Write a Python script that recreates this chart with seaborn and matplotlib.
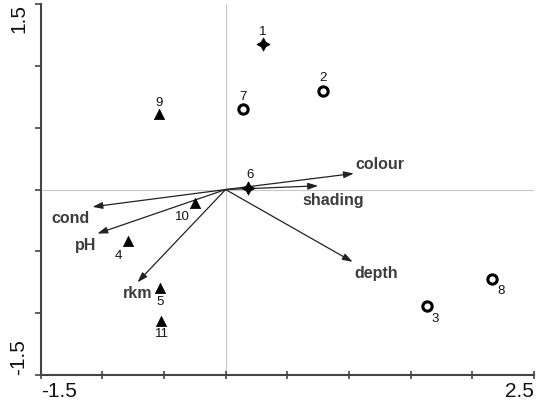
import numpy as np
import pandas as pd
import seaborn as sns
import matplotlib.pyplot as plt

# Site scores (axis 1, axis 2) and group
site_ids = ['1', '2', '3', '4', '5', '6', '7', '8', '9', '10', '11']
site_x = [0.30, 0.79, 1.63, -0.79, -0.53, 0.18, 0.14, 2.16, -0.54, -0.25, -0.52]
site_y = [1.18, 0.80, -0.94, -0.42, -0.80, 0.01, 0.65, -0.72, 0.61, -0.11, -1.065]
site_group = ['star', 'circle', 'circle', 'triangle', 'triangle', 'star',
              'circle', 'circle', 'triangle', 'triangle', 'triangle']

# Environmental vectors
env_names = ['colour', 'shading', 'depth', 'cond', 'pH', 'rkm']
env_x = [1.04, 0.75, 1.03, -1.08, -1.04, -0.715]
env_y = [0.13, 0.03, -0.585, -0.14, -0.356, -0.75]

df = pd.DataFrame({'site': site_ids, 'x': site_x, 'y': site_y, 'group': site_group})

sns.set_style("white")
plt.rcParams['font.family'] = ['Liberation Sans', 'DejaVu Sans']

fig = plt.figure(figsize=(5.42, 4.05), dpi=100)
ax = fig.add_axes([0.075, 0.074, 0.91, 0.916])

ax.axhline(0, color='#c8c8c8', lw=0.8, zorder=0)
ax.axvline(0, color='#c8c8c8', lw=0.8, zorder=0)

# Arrows
for name, ex, ey in zip(env_names, env_x, env_y):
    ax.annotate('', xy=(ex, ey), xytext=(0, 0),
                arrowprops=dict(arrowstyle='-|>,head_length=0.6,head_width=0.2',
                                color='#222222', lw=0.9, shrinkA=0, shrinkB=0))

# label offsets from arrow tip (layout)
env_off = {'colour': (0.015, 0.07, 'left'), 'shading': (-0.13, -0.115, 'left'),
           'depth': (0.015, -0.095, 'left'), 'cond': (-0.33, -0.095, 'left'),
           'pH': (-0.18, -0.095, 'left'), 'rkm': (-0.12, -0.09, 'left')}
for name, ex, ey in zip(env_names, env_x, env_y):
    dx, dy, ha = env_off[name]
    ax.text(ex + dx, ey + dy, name, fontsize=11.5, fontweight='bold',
            color='#3c3c3c', ha=ha, va='center')

# Sites
sns.scatterplot(data=df[df.group == 'triangle'], x='x', y='y', marker='^',
                s=55, color='black', edgecolor='black', linewidth=0.5, ax=ax,
                zorder=3)
sns.scatterplot(data=df[df.group == 'circle'], x='x', y='y', marker='o',
                s=45, facecolor='white', edgecolor='black', linewidth=2.2,
                ax=ax, zorder=3)
sns.scatterplot(data=df[df.group == 'star'], x='x', y='y', marker=(4, 1, 0),
                s=90, color='black', edgecolor='black', linewidth=0.5, ax=ax,
                zorder=3)

# site label offsets (layout)
lab_off = {'1': (0, 0.095), '2': (0, 0.10), '3': (0.07, -0.105),
           '4': (-0.08, -0.12), '5': (0, -0.11), '6': (0.02, 0.11),
           '7': (0, 0.095), '8': (0.07, -0.10), '9': (0, 0.09),
           '10': (-0.10, -0.115), '11': (0, -0.10)}
for _, r in df.iterrows():
    dx, dy = lab_off[r.site]
    ax.text(r.x + dx, r.y + dy, r.site, fontsize=9.5, color='#111111',
            ha='center', va='center')

ax.set_xlim(-1.5, 2.5)
ax.set_ylim(-1.5, 1.5)
ax.set_xlabel('')
ax.set_ylabel('')

xt = np.arange(-1.5, 2.51, 0.5)
yt = np.arange(-1.5, 1.51, 0.5)
ax.set_xticks(xt)
ax.set_yticks(yt)
ax.set_xticklabels(['-1.5'] + [''] * (len(xt) - 2) + ['2.5'], fontsize=15)
ax.set_yticklabels(['-1.5'] + [''] * (len(yt) - 2) + ['1.5'], fontsize=15,
                   rotation=90)
xl = ax.get_xticklabels()
xl[0].set_ha('left')
xl[-1].set_ha('right')
yl = ax.get_yticklabels()
yl[0].set_va('bottom')
yl[-1].set_va('top')

ax.tick_params(axis='x', bottom=True, direction='inout', length=6, width=1.2,
               color='#444444', pad=2, labelcolor='#111111')
ax.tick_params(axis='y', left=True, direction='out', length=4, width=1.2,
               color='#444444', pad=5, labelcolor='#111111')

for side in ['top', 'right']:
    ax.spines[side].set_visible(False)
for side in ['left', 'bottom']:
    ax.spines[side].set_color('#444444')
    ax.spines[side].set_linewidth(1.5)

fig.savefig('out.png', dpi=100)
